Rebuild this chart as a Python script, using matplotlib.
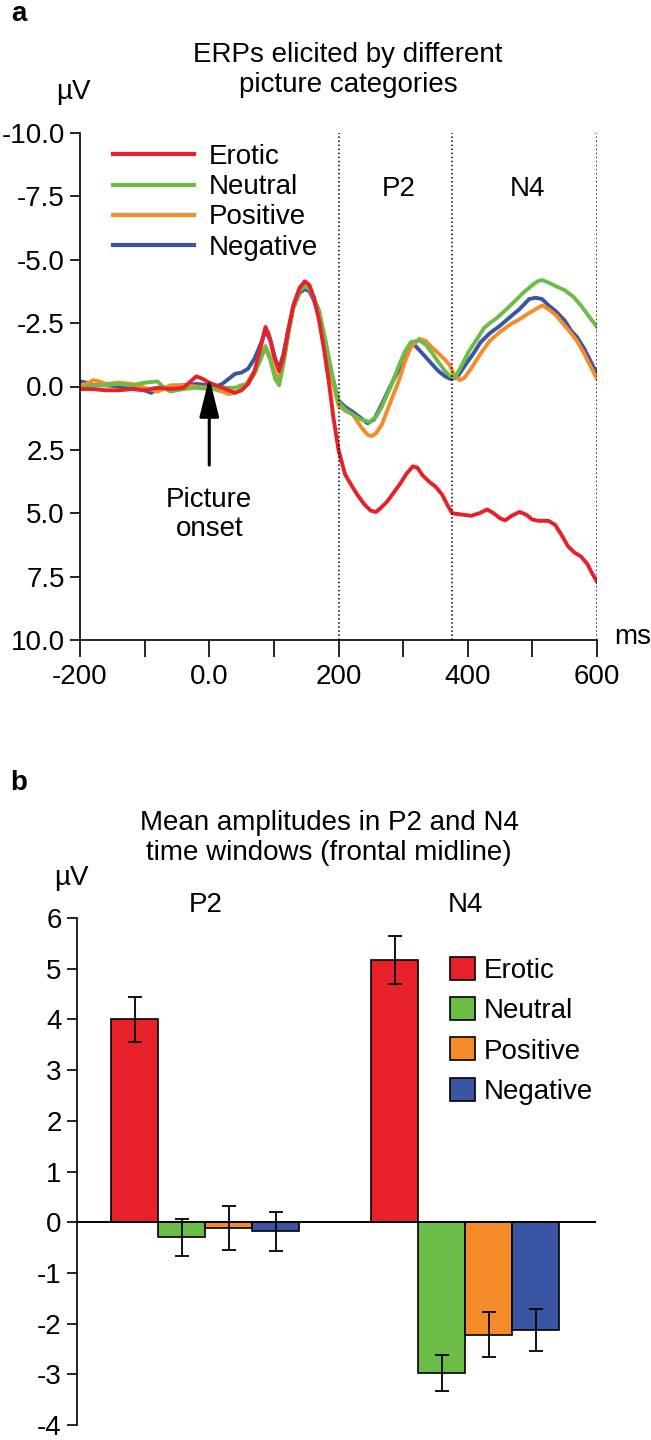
import numpy as np
import matplotlib
matplotlib.use("Agg")
import matplotlib.pyplot as plt
from matplotlib.patches import Patch
from matplotlib.lines import Line2D

plt.rcParams['font.family'] = ['Liberation Sans', 'DejaVu Sans']
plt.rcParams['axes.unicode_minus'] = False

# ---- panel a : ERP waveforms ----
t_red = [-200, -180, -160, -140, -120, -100, -80, -60, -40, -20, -10, 0, 10, 20, 30, 40, 50, 60, 70, 80, 87, 93,
         100, 108, 115, 122, 130, 140, 148, 155, 162, 170, 178, 185, 192, 200, 210, 220, 230, 240, 250, 258, 265,
         275, 285, 295, 305, 315, 322, 330, 340, 350, 360, 368, 376, 390, 405, 418, 430, 440, 450, 458, 468, 480,
         490, 500, 510, 525, 535, 545, 555, 565, 575, 585, 592, 600]
v_red = [0.1, 0.1, 0.15, 0.15, 0.1, 0.15, 0.05, 0.1, 0.05, -0.4, -0.3, -0.15, -0.05, 0.05, 0.15, 0.25, 0.15, -0.1,
         -0.6, -1.6, -2.35, -2.0, -1.2, -0.6, -1.2, -2.2, -3.2, -3.9, -4.15, -4.0, -3.5, -2.6, -1.4, -0.2, 1.2, 2.5,
         3.45, 3.9, 4.3, 4.65, 4.9, 4.95, 4.8, 4.55, 4.2, 3.85, 3.45, 3.15, 3.2, 3.5, 3.75, 3.95, 4.25, 4.65, 5.0,
         5.05, 5.1, 5.0, 4.85, 5.0, 5.2, 5.28, 5.1, 4.95, 5.05, 5.25, 5.3, 5.3, 5.45, 5.85, 6.3, 6.55, 6.7, 7.0,
         7.35, 7.7]

t_green = [-200, -180, -160, -140, -120, -100, -80, -70, -60, -50, -40, -20, 0, 20, 40, 50, 60, 70, 80, 87, 95,
           102, 108, 115, 122, 130, 140, 148, 155, 162, 170, 180, 190, 200, 210, 222, 235, 248, 258, 267, 280, 293,
           303, 312, 325, 335, 344, 355, 365, 373, 380, 390, 402, 415, 425, 434, 445, 460, 472, 486, 500, 508, 515,
           525, 537, 550, 563, 575, 588, 600]
v_green = [0.05, -0.05, -0.05, -0.1, -0.05, -0.15, -0.2, 0.05, 0.2, 0.15, 0.1, 0.05, 0.1, 0.05, 0.05, -0.05, -0.1,
           -0.5, -1.1, -1.55, -1.0, -0.3, -0.05, -0.9, -2.0, -3.1, -3.8, -3.95, -3.85, -3.5, -3.0, -1.8, -0.5, 0.6,
           0.9, 1.1, 1.3, 1.4, 1.2, 0.8, 0.05, -0.8, -1.4, -1.75, -1.82, -1.65, -1.35, -0.95, -0.6, -0.42, -0.35,
           -0.8, -1.4, -1.9, -2.3, -2.5, -2.7, -3.05, -3.35, -3.7, -4.0, -4.15, -4.2, -4.1, -3.95, -3.8, -3.55,
           -3.2, -2.75, -2.35]

t_orange = [-200, -190, -180, -170, -160, -140, -120, -100, -80, -60, -40, -20, 0, 20, 30, 40, 50, 60, 70, 80, 87,
            95, 102, 108, 115, 122, 130, 140, 148, 155, 162, 170, 180, 190, 200, 210, 222, 235, 245, 251, 258, 267,
            280, 293, 303, 312, 325, 335, 344, 355, 365, 372, 380, 388, 395, 405, 420, 434, 450, 466, 480, 492, 505,
            515, 525, 537, 550, 560, 569, 580, 590, 600]
v_orange = [-0.05, -0.1, -0.25, -0.2, -0.1, -0.15, -0.1, 0.05, 0.2, -0.05, -0.05, 0.0, 0.05, 0.2, 0.3, 0.25, 0.1,
            -0.2, -0.6, -1.2, -1.6, -1.1, -0.5, -0.3, -1.0, -2.1, -3.1, -3.8, -4.0, -3.9, -3.5, -2.8, -1.6, -0.3,
            0.75, 0.95, 1.1, 1.6, 1.9, 1.96, 1.85, 1.5, 0.65, -0.2, -1.0, -1.55, -1.88, -1.8, -1.55, -1.3, -1.05,
            -0.85, -0.4, -0.25, -0.35, -0.7, -1.3, -1.8, -2.15, -2.45, -2.65, -2.85, -3.05, -3.2, -3.05, -2.8,
            -2.4, -2.1, -1.8, -1.3, -0.8, -0.3]

t_blue = [-200, -190, -180, -160, -140, -120, -100, -90, -80, -60, -40, -20, 0, 10, 20, 30, 40, 50, 60, 70, 80, 87,
          95, 102, 108, 115, 122, 130, 140, 148, 155, 162, 170, 180, 190, 200, 210, 222, 235, 245, 255, 267, 280,
          293, 303, 312, 319, 330, 344, 355, 365, 373, 383, 395, 410, 420, 434, 450, 466, 480, 495, 505, 515, 525,
          537, 550, 560, 569, 580, 590, 600]
v_blue = [-0.2, -0.15, -0.05, -0.05, 0.0, 0.05, 0.15, 0.25, 0.1, 0.0, -0.05, -0.1, -0.05, 0.0, -0.1, -0.3, -0.5,
          -0.55, -0.7, -1.1, -1.7, -2.2, -1.8, -1.1, -0.7, -1.3, -2.2, -3.1, -3.7, -3.85, -3.75, -3.4, -2.8, -1.7,
          -0.4, 0.55, 0.8, 1.0, 1.25, 1.45, 1.3, 0.7, 0.0, -0.65, -1.2, -1.68, -1.6, -1.3, -0.9, -0.6, -0.4, -0.3,
          -0.35, -0.8, -1.35, -1.75, -2.1, -2.4, -2.75, -3.05, -3.45, -3.5, -3.45, -3.2, -2.95, -2.6, -2.2, -1.95,
          -1.5, -1.0, -0.5]

window_edges = [200, 376, 600]

# ---- panel b : mean amplitudes ----
categories = ['Erotic', 'Neutral', 'Positive', 'Negative']
p2_mean = [4.0, -0.3, -0.11, -0.18]
p2_err = [0.45, 0.36, 0.43, 0.38]
n4_mean = [5.17, -2.97, -2.22, -2.13]
n4_err = [0.47, 0.36, 0.44, 0.41]

colors = ['#E8202A', '#6CBD45', '#F68B2A', '#3A55A4']

fig = plt.figure(figsize=(6.51, 14.4), dpi=100)
FS = 20

# ---------------- panel a ----------------
ax1 = fig.add_axes([80/651, 1 - 640/1440, (597 - 80)/651, (640 - 133)/1440])
for t, v, c in [(t_blue, v_blue, colors[3]), (t_orange, v_orange, colors[2]),
                (t_green, v_green, colors[1]), (t_red, v_red, colors[0])]:
    ax1.plot(t, v, color=c, lw=2.8, solid_joinstyle='round')
for e in window_edges:
    ax1.axvline(e, color='black', ls=':', lw=1.1)
ax1.set_xlim(-200, 600)
ax1.set_ylim(10, -10)
ax1.spines['top'].set_visible(False)
ax1.spines['right'].set_visible(False)
ax1.set_xticks([-200, 0, 200, 400, 600])
ax1.set_xticklabels(['-200', '0.0', '200', '400', '600'])
ax1.set_xticks([-100, 100, 300, 500], minor=True)
ax1.set_yticks([-10, -7.5, -5, -2.5, 0, 2.5, 5, 7.5, 10])
ax1.set_yticklabels(['-10.0', '-7.5', '-5.0', '-2.5', '0.0', '2.5', '5.0', '7.5', '10.0'])
ax1.tick_params(axis='x', which='both', direction='out', length=12, width=1.2, labelsize=FS, pad=5)
ax1.tick_params(axis='y', direction='out', length=7, width=1.2, labelsize=FS, pad=4)
for s in ['left', 'bottom']:
    ax1.spines[s].set_linewidth(1.2)

handles = [Line2D([0], [0], color=c, lw=3) for c in colors]
ax1.legend(handles, categories, loc='upper left', bbox_to_anchor=(0.064, 0.978), frameon=False,
           fontsize=FS, handlelength=2.9, handletextpad=0.55, labelspacing=0.15, borderaxespad=0, borderpad=0)
ax1.text(293, -7.8, 'P2', ha='center', va='center', fontsize=FS)
ax1.text(493, -7.8, 'N4', ha='center', va='center', fontsize=FS)
ax1.annotate('', xy=(0, -0.35), xytext=(0, 3.1),
             arrowprops=dict(arrowstyle='-|>,head_length=1.2,head_width=0.3', color='black', lw=2.2,
                             mutation_scale=20, shrinkA=0, shrinkB=0))
ax1.text(0, 5.05, 'Picture\nonset', ha='center', va='center', fontsize=FS, linespacing=1.15)
ax1.text(1.033, 0.005, 'ms', transform=ax1.transAxes, ha='left', va='center', fontsize=FS)

fig.text(19/651, 1 - 14/1440, 'a', fontsize=FS, fontweight='bold', ha='center', va='center')
fig.text(348/651, 1 - 70/1440, 'ERPs elicited by different\npicture categories', ha='center', va='center',
         fontsize=FS, linespacing=1.2)
fig.text(73/651, 1 - 92/1440, 'µV', ha='center', va='center', fontsize=FS)

# ---------------- panel b ----------------
ax2 = fig.add_axes([77/651, 1 - 1425/1440, (596 - 77)/651, (1425 - 918)/1440])
w = 1.0
x_p2 = np.arange(4) * w
x_n4 = np.arange(4) * w + 5.53
ax2.bar(x_p2, p2_mean, width=w, color=colors, edgecolor='black', linewidth=1.2, zorder=2)
ax2.bar(x_n4, n4_mean, width=w, color=colors, edgecolor='black', linewidth=1.2, zorder=2)
ax2.errorbar(x_p2, p2_mean, yerr=p2_err, fmt='none', ecolor='black', elinewidth=1.3, capsize=5, capthick=1.3,
             zorder=3)
ax2.errorbar(x_n4, n4_mean, yerr=n4_err, fmt='none', ecolor='black', elinewidth=1.3, capsize=5, capthick=1.3,
             zorder=3)
ax2.axhline(0, color='black', lw=1.4, zorder=4)
ax2.set_xlim(-1.23, 9.81)
ax2.set_ylim(-4, 6)
for s in ['top', 'right', 'bottom']:
    ax2.spines[s].set_visible(False)
ax2.spines['left'].set_linewidth(1.2)
ax2.set_xticks([])
ax2.set_yticks(range(-4, 7))
ax2.tick_params(axis='y', direction='out', length=7, width=1.2, labelsize=FS, pad=4)
ax2.text(x_p2.mean(), 6.25, 'P2', ha='center', va='center', fontsize=FS)
ax2.text(x_n4.mean(), 6.25, 'N4', ha='center', va='center', fontsize=FS)

patches = [Patch(facecolor=c, edgecolor='black', linewidth=1.2) for c in colors]
ax2.legend(patches, categories, loc='upper left', bbox_to_anchor=(0.719, 0.924), frameon=False, fontsize=FS,
           handlelength=0.9, handleheight=0.9, handletextpad=0.3, labelspacing=0.48, borderaxespad=0,
           borderpad=0)

fig.text(19/651, 1 - 783/1440, 'b', fontsize=FS, fontweight='bold', ha='center', va='center')
fig.text(329/651, 1 - 838/1440, 'Mean amplitudes in P2 and N4\ntime windows (frontal midline)', ha='center',
         va='center', fontsize=FS, linespacing=1.2)
fig.text(71/651, 1 - 878/1440, 'µV', ha='center', va='center', fontsize=FS)

fig.savefig('out.png', dpi=100)
